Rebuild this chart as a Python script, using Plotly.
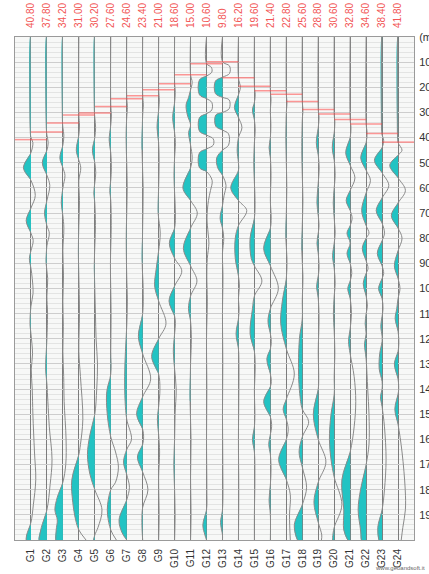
import plotly.graph_objects as go

# ---------------- data ----------------
PICKS = [40.8, 37.8, 34.2, 31.0, 30.2, 27.6, 24.6, 23.4, 21.0, 18.6, 15.0, 10.6,
         9.8, 16.2, 19.6, 21.4, 22.8, 25.6, 28.8, 30.6, 32.8, 34.6, 38.4, 41.8]
GEOPHONES = ["G1", "G2", "G3", "G4", "G5", "G6", "G7", "G8", "G9", "G10", "G11", "G12",
             "G13", "G14", "G15", "G16", "G17", "G18", "G19", "G20", "G21", "G22", "G23", "G24"]
TIME_TICKS = [0, 10, 20, 30, 40, 50, 60, 70, 80, 90, 100, 110, 120, 130, 140, 150, 160, 170, 180, 190]
TIME_LABELS = ["(ms)", "10", "20", "30", "40", "50", "60", "70", "80", "90", "100", "110",
               "120", "130", "140", "150", "160", "170", "180", "190"]

# wiggle key points: (time ms, amplitude in trace-spacing units, negative = filled side)
G01 = [(0,-0.04),(38,-0.04),(40,0),(42,0.12),(46,0),(52,-0.47),(57,0),(63,0.27),(68,0),(73,-0.3),(78,0),
       (81,0.14),(85,0),(88,-0.1),(92,0),(96,0.08),(102,0.13),(107,0),(114,-0.06),(118,0),(126,0.1),(132,0.02),
       (140,0.08),(150,0.12),(165,0.22),(176,0.3),(186,0.15),(193,0),(198,-0.27),(200,-0.3)]
G02 = [(0,-0.04),(36,-0.04),(39,0),(42,0.08),(45,0),(50,-0.29),(55,0),(59,0.18),(65,0),(70,-0.15),(75,0),
       (78,0.15),(83,0),(90,-0.05),(96,0.05),(103,0),(110,0.04),(120,0),(132,-0.08),(138,0),(145,0.06),
       (155,0.15),(168,0.32),(178,0.2),(188,0),(195,-0.35),(200,-0.5)]
G03 = [(0,-0.03),(33,-0.03),(36,0),(39,0.06),(43,0),(48,-0.19),(52,0),(55,0.13),(60,0),(66,-0.1),(71,0),
       (76,0.06),(85,0),(95,0.04),(105,0),(115,0.03),(125,0),(135,0.05),(145,0.08),(160,0.2),(170,0.18),
       (177,0),(183,-0.35),(188,-0.5),(192,-0.35),(196,-0.42),(200,-0.45)]
G04 = [(0,0),(31,0),(35,0.04),(39,0),(45,-0.16),(49,0),(52,0.12),(57,0),(65,0.04),(75,0),(85,-0.03),(95,0),
       (110,0.04),(125,0),(135,0.1),(152,0.25),(162,0.1),(166,0),(176,-0.44),(185,-0.38),(192,-0.2),(196,0),
       (200,0.45)]
G05 = [(0,-0.03),(29,-0.03),(32,0),(36,0.05),(40,0),(45,-0.15),(50,0),(54,0.06),(58,0),(62,-0.06),(66,0),
       (75,0.04),(90,-0.03),(100,0),(110,0.04),(120,0.08),(130,0.17),(140,0.12),(150,0),(158,-0.3),
       (166,-0.46),(174,-0.3),(180,0),(188,0.45),(195,0.2),(198,0),(200,-0.08)]
G06 = [(0,0),(27,0),(31,0.04),(35,0),(41,-0.1),(46,0),(52,0.04),(57,0),(61,-0.06),(65,0),(75,0.03),
       (90,-0.02),(110,0.02),(125,0),(134,0),(141,-0.25),(150,-0.22),(159,0),(165,0.3),(171,0.48),(177,0.3),
       (180,0),(186,-0.2),(190,-0.2),(196,0),(200,0.35)]
G07 = [(0,0),(24,0),(28,0.04),(32,0),(40,-0.04),(50,0),(60,0.03),(70,0),(80,-0.03),(95,0),(105,0.04),
       (115,0),(125,-0.08),(135,-0.13),(145,-0.1),(152,0),(160,0.3),(164,0),(169,-0.2),(174,0),(179,0.17),
       (184,0),(192,-0.48),(197,-0.3),(200,0)]
G08 = [(0,0),(23,0),(27,0.04),(31,0),(45,-0.04),(60,0.03),(75,0),(90,-0.03),(100,0.03),(110,0),
       (119,-0.27),(126,0),(136,0.5),(143,0),(150,-0.38),(156,0),(159,0.06),(162,0),(167,-0.33),(173,0),
       (180,0.33),(187,0),(193,-0.05),(200,0)]
G09 = [(0,0),(21,0),(25,0.04),(29,0),(36,-0.1),(42,0),(50,0.03),(60,0),(70,-0.03),(78,0.1),(85,0),
       (92,-0.15),(99,-0.25),(105,0),(114,0.46),(120,0),(127,-0.44),(134,0),(140,0.08),(147,0),(152,-0.08),
       (158,0),(165,0.06),(175,0),(190,0.03),(200,0)]
G10 = [(0,0),(18,0),(22,0.04),(26,0),(32,-0.12),(38,0),(42,0.05),(48,0),(55,-0.04),(62,0),(70,0.05),
       (76,0),(82,-0.33),(88,0),(93,0.45),(99,0),(105,-0.35),(111,0),(114,0.05),(118,0),(125,-0.08),(132,0),
       (140,0.1),(150,0.03),(160,0),(170,-0.05),(180,0),(190,0.03),(200,0)]
G11 = [(0,0),(15,0),(18,0.1),(21,0),(24,-0.12),(27,-0.28),(31,-0.2),(35,0),(38,-0.12),(43,0),(48,0.1),
       (52,0),(60,-0.48),(65,0),(70,0.42),(76,0),(84,-0.45),(91,0),(97,0.4),(103,0),(108,-0.13),(113,0),
       (120,0.05),(130,0),(145,-0.03),(160,0.03),(175,0),(190,0.03),(200,0)]
G12 = [(0,0),(10.6,0),(12,0.3),(14,0.33),(15.5,0),(17,-0.44),(23,-0.44),(24.5,0),(26,0.33),(29,0.33),
       (30.5,0),(32,-0.44),(37.5,-0.44),(39,0),(40.5,0.42),(43,0.42),(44.5,0),(46,-0.44),(52,-0.44),
       (53.5,0),(57,0.35),(61,0.25),(65,0.12),(72,0.03),(78,0.1),(82,0.15),(88,0.05),(95,0.02),(105,0.05),
       (120,0),(140,0.02),(160,0),(180,0.02),(188,0),(194,-0.23),(198,-0.1),(200,0)]
G13 = [(0,0),(9.8,0),(11.5,0.44),(14.5,0.44),(16,0),(17.5,-0.44),(22.5,-0.44),(24,0),(25,0.42),
       (28.5,0.42),(30,0),(31,-0.42),(35.5,-0.42),(37,0),(38.5,0.38),(43,0.38),(45,0),(48,-0.36),(52,-0.3),
       (55,0),(59,0.22),(63,0.1),(67,0),(72,-0.15),(76,0),(80,0.08),(86,0),(95,0.03),(110,0),(130,0.02),
       (150,0),(170,0.02),(188,0),(193,-0.12),(198,0),(200,0)]
G14 = [(0,0),(16.2,0),(20,0.12),(23,0),(28,-0.25),(32,0),(36,0.22),(40,0),(45,-0.08),(50,0),(53,0),
       (60,-0.48),(65,0),(69,0.52),(75,0),(80,-0.2),(88,-0.2),(95,0),(99,0.06),(104,0),(108,0.04),(112,0),
       (118,-0.15),(124,0),(130,0.03),(145,0.02),(160,0),(180,0.02),(200,0)]
G15 = [(0,0),(19.6,0),(23,0.05),(26,0),(29,-0.12),(33,0),(37,0.05),(42,0),(50,-0.04),(58,0),(65,0.04),
       (72,0),(80,-0.27),(88,-0.2),(91,0),(97,0.47),(103,0),(108,-0.12),(118,-0.27),(125,0),(132,0.05),
       (140,0),(150,0.03),(155,0),(160,-0.12),(165,0),(175,0.03),(190,0),(200,0)]
G16 = [(0,0),(21.4,0),(25,0.04),(29,0),(35,0.03),(40,0),(44,-0.08),(48,0),(55,0.04),(65,0),(72,0.05),
       (76,0),(84,-0.42),(91,0),(100,0.5),(108,0),(113,-0.15),(118,0),(121,0.06),(124,0),(128,-0.22),
       (134,0),(137,0.06),(139,0),(145,-0.42),(151,0),(155,0.08),(158,0),(162,-0.1),(166,0),(172,0.04),
       (178,0),(184,-0.08),(190,0),(200,0)]
G17 = [(0,0),(22.8,0),(26,0.04),(30,0),(40,-0.03),(50,0),(60,0.03),(70,0),(80,-0.03),(88,0.04),(96,0),
       (105,-0.25),(114,-0.35),(124,0),(134,0.5),(144,0),(148,-0.2),(152,0),(156,0.12),(160,0),(168,-0.48),
       (176,0),(182,0.25),(190,0.2),(200,0.25)]
G18 = [(0,0),(25.6,0),(29,0.04),(33,0),(45,-0.03),(55,0),(65,0.04),(75,0),(85,-0.03),(95,0.04),(105,0),
       (112,0),(120,-0.18),(135,-0.23),(145,-0.1),(148,0),(153,0.4),(159,0),(165,-0.2),(171,0),(179,0.27),
       (186,0),(194,-0.5),(200,-0.3)]
G19 = [(0,0),(28.8,0),(32,0.05),(36,0),(42,-0.12),(47,0),(52,0.06),(58,0),(66,-0.08),(71,0),(75,0.05),
       (78,0),(82,-0.08),(86,0),(92,0.05),(95,0),(99,-0.1),(104,0),(112,0.05),(125,0),(135,0.03),(140,0),
       (150,-0.31),(160,0),(169,0.48),(177,0),(185,-0.27),(193,0),(198,0.22),(200,0.2)]
G20 = [(0,0),(30.6,0),(34,0.04),(38,0),(44,-0.12),(49,0),(55,0.06),(60,0),(66,-0.06),(72,0),(78,0.06),
       (82,0),(87,-0.1),(92,0),(98,0.06),(103,0),(110,-0.05),(117,0),(125,0.04),(135,0),(142,0),(150,-0.2),
       (160,-0.3),(168,-0.2),(175,0),(186,0.48),(195,0),(199,-0.1),(200,-0.1)]
G21 = [(0,0),(32.8,0),(36,0.05),(40,0),(46,-0.28),(51,0),(56,0.3),(61,0),(65,-0.25),(69,0),(72,0.12),
       (75,0),(78,-0.2),(82,0),(86,-0.2),(90,0),(94,0.1),(97,0),(100,-0.15),(104,0),(110,0.08),(116,0),
       (121,-0.1),(126,0),(135,0.25),(145,0.35),(155,0.25),(165,0),(176,-0.52),(188,-0.4),(196,-0.4),
       (200,-0.15)]
G22 = [(0,0),(34.6,0),(38,0.06),(42,0),(48,-0.34),(53,0),(57,0.27),(62,0),(69,-0.28),(75,0),(78,0.18),
       (80,0),(84,-0.24),(89,0),(92,0.12),(94,0),(98,-0.18),(103,0),(107,0.08),(110,0),(114,-0.06),(118,0),
       (122,-0.1),(128,0),(140,0.1),(150,0.18),(162,0.18),(170,0),(180,-0.35),(188,-0.5),(196,-0.35),
       (200,-0.3)]
G23 = [(0,-0.03),(37,-0.03),(39,0),(41,0.1),(44,0),(49,-0.48),(54,0),(59,0.42),(64,0),(69,-0.37),(74,0),
       (78,0.15),(81,0),(86,-0.3),(91,0),(94,0.1),(96,0),(100,-0.22),(104,0),(108,0.06),(111,0),(115,-0.08),
       (119,0),(121,0),(126,-0.15),(132,-0.18),(137,0),(140,0),(143,-0.1),(147,0),(155,0.15),(168,0.25),
       (180,0.15),(188,0),(195,-0.27),(200,-0.2)]
G24 = [(0,-0.03),(40,-0.03),(42,0),(45,0.25),(47,0),(51,-0.52),(56,0),(61,0.46),(66,0),(71,-0.42),(76,0),
       (80,0.25),(85,0),(91,-0.23),(96,0),(100,0.12),(104,0),(108,-0.08),(112,-0.18),(117,0),(122,0.05),
       (125,0),(130,-0.23),(136,0),(140,0.04),(142,0),(148,-0.2),(154,0),(165,0.25),(180,0.45),(188,0.46),
       (195,0.3),(200,0.2)]

WIGGLES = [G01, G02, G03, G04, G05, G06, G07, G08, G09, G10, G11, G12,
           G13, G14, G15, G16, G17, G18, G19, G20, G21, G22, G23, G24]

# ---------------- helpers ----------------
def negative_lobes(pts):
    runs, cur = [], []
    for t, a in pts:
        if a <= 0:
            cur.append((t, a))
        else:
            if any(v < 0 for _, v in cur):
                runs.append(cur)
            cur = []
    if any(v < 0 for _, v in cur):
        runs.append(cur)
    out = []
    for r in runs:
        r = list(r)
        if r[0][1] < 0:
            r.insert(0, (r[0][0], 0.0))
        if r[-1][1] < 0:
            r.append((r[-1][0], 0.0))
        out.append(r)
    return out

FONT = "Liberation Sans, Arial, sans-serif"
CYAN = "#22c3c3"

fig = go.Figure()

for i, pts in enumerate(WIGGLES, start=1):
    fx, fy = [], []
    for lobe in negative_lobes(pts):
        fx += [i + a for _, a in lobe] + [None]
        fy += [t for t, _ in lobe] + [None]
    fig.add_trace(go.Scatter(x=fx, y=fy, mode="lines", fill="toself", fillcolor=CYAN,
                             line=dict(width=0, shape="spline"), hoverinfo="skip"))
    fig.add_trace(go.Scatter(x=[i + a for _, a in pts], y=[t for t, _ in pts], mode="lines",
                             line=dict(color="#8a8a8a", width=1, shape="spline"), hoverinfo="skip"))

# first-break picks: segment from previous to next geophone
px, py = [], []
for i, p in enumerate(PICKS, start=1):
    px += [i - 1, i + 1, None]
    py += [p, p, None]
fig.add_trace(go.Scatter(x=px, y=py, xaxis="x2", mode="lines",
                         line=dict(color="rgba(255,70,70,0.55)", width=1.5), hoverinfo="skip"))

fig.update_layout(
    width=429, height=574,
    margin=dict(l=15, r=15, t=37, b=34, autoexpand=False),
    paper_bgcolor="white", plot_bgcolor="#f7f8f7",
    showlegend=False,
    font=dict(family=FONT, size=10, color="#333"),
    xaxis=dict(range=[0, 25], tickmode="array", tickvals=list(range(1, 25)), ticktext=GEOPHONES,
               tickangle=-90, tickfont=dict(size=10, color="#333"), automargin=False,
               showgrid=True, gridcolor="#7c7c7c", gridwidth=1, zeroline=False,
               showline=True, linecolor="#9a9a9a", mirror=True,
               ticks="outside", ticklen=4, tickcolor="rgba(0,0,0,0)", fixedrange=True),
    xaxis2=dict(range=[0, 25], overlaying="x", side="top", tickmode="array",
                tickvals=list(range(1, 25)), ticktext=["%.2f" % p for p in PICKS],
                tickangle=-90, tickfont=dict(size=10, color="#f25555"), automargin=False,
                showgrid=False, zeroline=False, showline=False,
                ticks="outside", ticklen=6, tickcolor="rgba(0,0,0,0)", fixedrange=True),
    yaxis=dict(range=[200, 0], side="right", tickmode="array", tickvals=TIME_TICKS, ticktext=TIME_LABELS,
               tickfont=dict(size=11, color="#333"), automargin=False, ticklabeloverflow="allow",
               showgrid=True, gridcolor="#cdcdcd", gridwidth=1,
               minor=dict(tickmode="linear", tick0=0, dtick=2, showgrid=True, gridcolor="#e3e4e3"),
               zeroline=False, showline=True, linecolor="#9a9a9a", mirror=True,
               ticks="outside", ticklen=2, tickcolor="rgba(0,0,0,0)", fixedrange=True),
    annotations=[dict(text="www.geoandsoft.it", xref="paper", yref="paper", x=1.033, y=-0.056,
                      xanchor="right", yanchor="middle", showarrow=False,
                      font=dict(size=6, color="#666", family=FONT))],
)

fig.write_html("out.html", config={"displayModeBar": False},
               post_script="document.body.style.margin='0';document.body.style.overflow='hidden';"
                           "document.documentElement.style.overflow='hidden';")
